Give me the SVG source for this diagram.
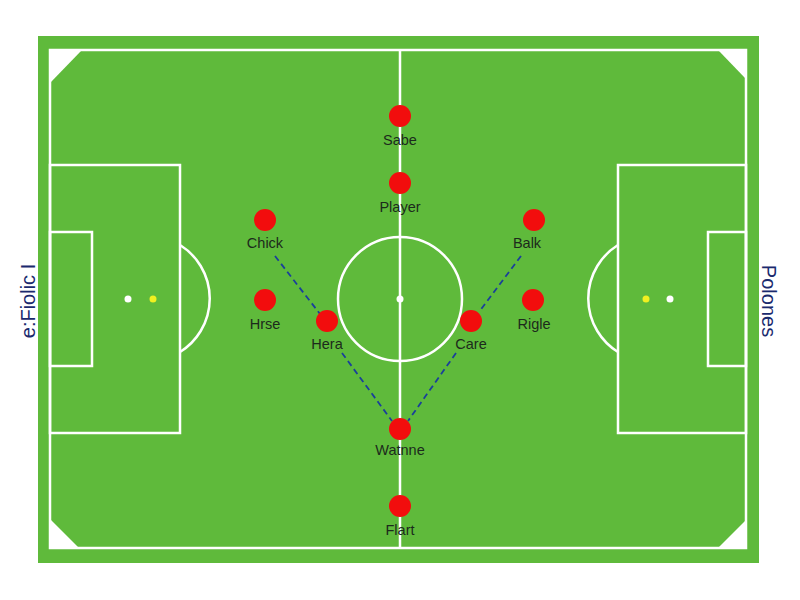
<svg xmlns="http://www.w3.org/2000/svg" width="800" height="600" viewBox="0 0 800 600">
<style>
.line{fill:none;stroke:#ffffff;stroke-width:2.5}
.player{fill:#f20d0d}
.lbl{font-family:"Liberation Sans",Arial,sans-serif;font-size:14.5px;fill:#1c2a1c;text-anchor:middle}
.side{font-family:"Liberation Sans",Arial,sans-serif;font-size:20px;fill:#1a2a6e;text-anchor:middle}
.link{fill:none;stroke:#1a3f9a;stroke-width:1.8;stroke-dasharray:6,4}
</style>
<rect x="0" y="0" width="800" height="600" fill="#ffffff"/>
<g id="pitch">
<rect x="38" y="36" width="721" height="527" fill="#5fba3b"/>
<rect x="50" y="50" width="696" height="498" class="line"/>
<polygon points="51,51 81,51 51,82" fill="#ffffff"/>
<polygon points="745,51 719,51 745,78" fill="#ffffff"/>
<polygon points="51,547 51,520 78,547" fill="#ffffff"/>
<polygon points="745,547 745,521 719,547" fill="#ffffff"/>
<line x1="400" y1="50" x2="400" y2="548" class="line"/>
<circle cx="400" cy="299" r="62" class="line"/>
<circle cx="400" cy="299" r="3.5" fill="#ffffff"/>
<rect x="50" y="165" width="130" height="268" class="line"/>
<rect x="50" y="232" width="42" height="134" class="line"/>
<path d="M180,245 A63,63 0 0 1 180,352" class="line"/>
<circle cx="128" cy="299" r="3.5" fill="#ffffff"/>
<circle cx="153" cy="299" r="3.5" fill="#f0f020"/>
<rect x="618" y="165" width="128" height="268" class="line"/>
<rect x="708" y="232" width="38" height="134" class="line"/>
<path d="M618,245 A63,63 0 0 0 618,352" class="line"/>
<circle cx="646" cy="299" r="3.5" fill="#f0f020"/>
<circle cx="670" cy="299" r="3.5" fill="#ffffff"/>
</g>
<g id="connectors">
<line x1="275" y1="256" x2="320" y2="314" class="link"/>
<line x1="342" y1="353" x2="392" y2="421" class="link"/>
<line x1="521" y1="256" x2="479" y2="312" class="link"/>
<line x1="456" y1="353" x2="408" y2="421" class="link"/>
</g>
<g id="sabe"><circle cx="400" cy="116" r="11" class="player"/><text x="400" y="145" class="lbl">Sabe</text></g>
<g id="player"><circle cx="400" cy="183" r="11" class="player"/><text x="400" y="212" class="lbl">Player</text></g>
<g id="chick"><circle cx="265" cy="220" r="11" class="player"/><text x="265" y="248" class="lbl">Chick</text></g>
<g id="balk"><circle cx="534" cy="220" r="11" class="player"/><text x="527" y="248" class="lbl">Balk</text></g>
<g id="hrse"><circle cx="265" cy="300" r="11" class="player"/><text x="265" y="329" class="lbl">Hrse</text></g>
<g id="rigle"><circle cx="533" cy="300" r="11" class="player"/><text x="534" y="329" class="lbl">Rigle</text></g>
<g id="hera"><circle cx="327" cy="321" r="11" class="player"/><text x="327" y="349" class="lbl">Hera</text></g>
<g id="care"><circle cx="471" cy="321" r="11" class="player"/><text x="471" y="349" class="lbl">Care</text></g>
<g id="watnne"><circle cx="400" cy="429" r="11" class="player"/><text x="400" y="455" class="lbl">Watnne</text></g>
<g id="flart"><circle cx="400" cy="506" r="11" class="player"/><text x="400" y="535" class="lbl">Flart</text></g>
<text class="side" transform="translate(35,301) rotate(-90)">e:Fiolic I</text>
<text class="side" transform="translate(762,301) rotate(90)">Polones</text>
</svg>
